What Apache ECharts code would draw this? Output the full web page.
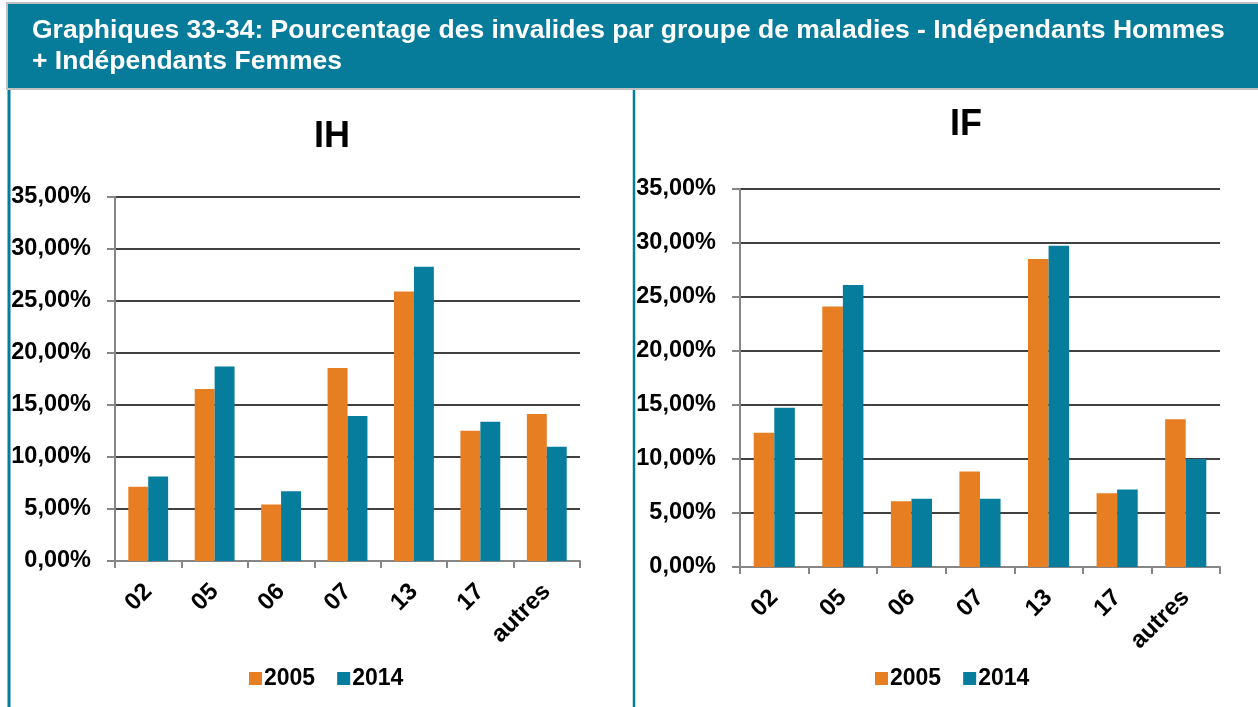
<!DOCTYPE html>
<html>
<head>
<meta charset="utf-8">
<title>Pourcentage des invalides par groupe de maladies</title>
<script src="https://cdn.jsdelivr.net/npm/echarts@6/dist/echarts.min.js"></script>
<style>
  html, body { margin: 0; padding: 0; background: #ffffff; }
  #chart { width: 1258px; height: 707px; }
</style>
</head>
<body>
<div id="chart"></div>
<script>
// Groupes de maladies
const categories = ['02', '05', '06', '07', '13', '17', 'autres'];
const seriesNames = ['2005', '2014'];

// Indépendants Hommes (part des invalides, en %)
const ih2005 = [7.13, 16.55, 5.43, 18.55, 25.92, 12.52, 14.13];
const ih2014 = [8.12, 18.69, 6.71, 13.94, 28.29, 13.39, 10.98];

// Indépendants Femmes (part des invalides, en %)
const if2005 = [12.43, 24.12, 6.09, 8.84, 28.51, 6.83, 13.67];
const if2014 = [14.75, 26.10, 6.31, 6.31, 29.75, 7.17, 9.99];

const yTicks = [0, 5, 10, 15, 20, 25, 30, 35];

const headerTitle = ['Graphiques 33-34: Pourcentage des invalides par groupe de maladies - Indépendants Hommes',
                     '+ Indépendants Femmes'];

const FONT = "'Liberation Sans', Arial, Helvetica, sans-serif";
const ORANGE = '#e87e22';
const TEAL = '#067d9c';
const HEADER = '#077b9a';
const AXIS_GREY = '#868686';

const fmtPct = v => v.toFixed(2).replace('.', ',') + '%';

function xAxisFor(gridIndex) {
  return {
    type: 'category',
    gridIndex,
    data: categories,
    boundaryGap: true,
    axisLine: { lineStyle: { color: AXIS_GREY, width: 2 } },
    axisTick: { show: true, alignWithLabel: false, length: 7, lineStyle: { color: AXIS_GREY, width: 2 } },
    axisLabel: {
      rotate: 45, margin: 27, color: '#000', fontFamily: FONT,
      fontWeight: 'bold', fontSize: 24, interval: 0
    }
  };
}

function yAxisFor(gridIndex) {
  return {
    type: 'value',
    gridIndex,
    min: yTicks[0],
    max: yTicks[yTicks.length - 1],
    interval: yTicks[1] - yTicks[0],
    axisLine: { show: true, lineStyle: { color: AXIS_GREY, width: 2 } },
    axisTick: { show: true, length: 8, lineStyle: { color: AXIS_GREY, width: 2 } },
    splitLine: { show: true, lineStyle: { color: '#000', width: 1.6 } },
    axisLabel: {
      margin: 24, color: '#000', fontFamily: FONT, fontWeight: 'bold', fontSize: 23.5,
      formatter: fmtPct
    }
  };
}

function barSeries(name, data, color, idx) {
  return {
    name, type: 'bar', data, xAxisIndex: idx, yAxisIndex: idx,
    barGap: '0%', barCategoryGap: '40%',
    itemStyle: { color },
    emphasis: { disabled: true }
  };
}

function legendFor(left, top) {
  return {
    data: seriesNames, left, top, orient: 'horizontal',
    itemWidth: 13, itemHeight: 13, itemGap: 22,
    icon: 'rect',
    textStyle: { color: '#000', fontFamily: FONT, fontWeight: 'bold', fontSize: 23, padding: [0, 0, 0, -3] }
  };
}

const chart = echarts.init(document.getElementById('chart'), null, { renderer: 'canvas' });

chart.setOption({
  animation: false,
  backgroundColor: '#ffffff',
  title: [
    { text: 'IH', left: 327, top: 114, textAlign: 'center',
      textStyle: { fontFamily: FONT, fontWeight: 'bold', fontSize: 36, color: '#000' } },
    { text: 'IF', left: 961, top: 102, textAlign: 'center',
      textStyle: { fontFamily: FONT, fontWeight: 'bold', fontSize: 36, color: '#000' } }
  ],
  legend: [
    Object.assign(legendFor(244, 662), { id: 'lh' }),
    Object.assign(legendFor(870, 662), { id: 'lf' })
  ],
  grid: [
    { left: 115, right: 678, top: 197, bottom: 146, containLabel: false },
    { left: 740, right: 38, top: 189, bottom: 140, containLabel: false }
  ],
  xAxis: [xAxisFor(0), xAxisFor(1)],
  yAxis: [yAxisFor(0), yAxisFor(1)],
  series: [
    barSeries('2005', ih2005, ORANGE, 0),
    barSeries('2014', ih2014, TEAL, 0),
    barSeries('2005', if2005, ORANGE, 1),
    barSeries('2014', if2014, TEAL, 1)
  ],
  graphic: [
    // bandeau de titre
    { type: 'rect', z: 0, silent: true,
      shape: { x: 7, y: 3, width: 1255, height: 86 },
      style: { fill: HEADER, stroke: '#c0c0c0', lineWidth: 2 } },
    { type: 'text', z: 1, silent: true, x: 32, y: 31,
      style: { text: headerTitle[0], fill: '#ffffff', font: 'bold 26.5px ' + FONT, verticalAlign: 'middle' } },
    { type: 'text', z: 1, silent: true, x: 32, y: 62,
      style: { text: headerTitle[1], fill: '#ffffff', font: 'bold 26.5px ' + FONT, verticalAlign: 'middle' } },
    // cadre
    { type: 'line', z: 0, silent: true,
      shape: { x1: 9, y1: 90, x2: 9, y2: 707 },
      style: { stroke: HEADER, lineWidth: 3 } },
    { type: 'line', z: 0, silent: true,
      shape: { x1: 634, y1: 90, x2: 634, y2: 707 },
      style: { stroke: HEADER, lineWidth: 2.5 } }
  ]
});
</script>
</body>
</html>
